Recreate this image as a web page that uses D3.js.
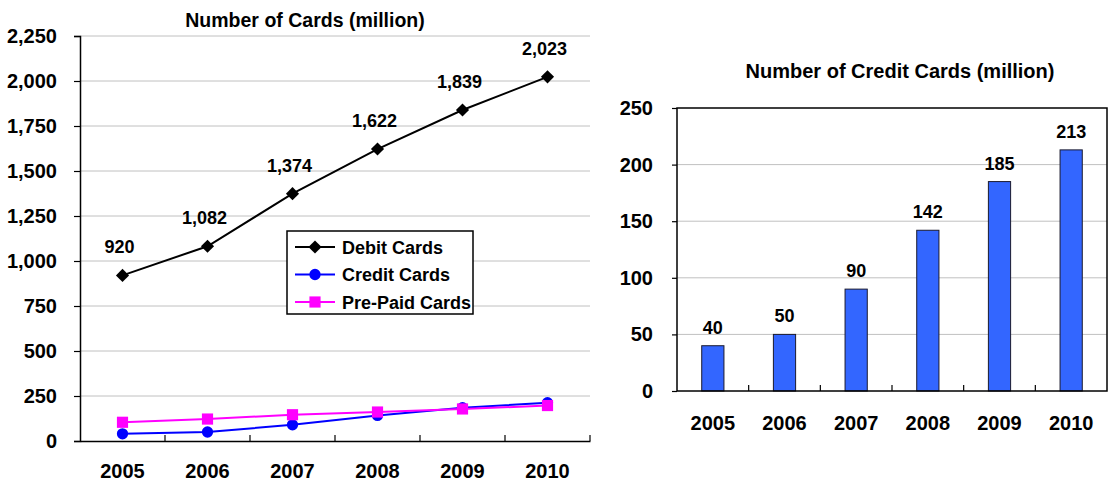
<!DOCTYPE html>
<html>
<head>
<meta charset="utf-8">
<script src="https://cdn.jsdelivr.net/npm/d3@7"></script>
<style>
  html, body { margin: 0; padding: 0; background: #fff; }
  svg { display: block; font-family: "Liberation Sans", Arial, sans-serif; font-weight: bold; }
</style>
</head>
<body>
<svg id="chart" width="1110" height="482"></svg>
<script>
// Card counts by year, in millions
const years = ["2005", "2006", "2007", "2008", "2009", "2010"];
const debitCards = [920, 1082, 1374, 1622, 1839, 2023];
const creditCards = [40, 50, 90, 142, 185, 213];
const prepaidCards = [104, 122, 146, 161, 178, 197];
const leftTicks = [0, 250, 500, 750, 1000, 1250, 1500, 1750, 2000, 2250];
const rightTicks = [0, 50, 100, 150, 200, 250];

const svg = d3.select("#chart");
const gridColor = "#c0c0c0";
const fmt = d3.format(",");

// ---------- Left panel: line chart of all card types ----------
const L = { left: 80, right: 590, top: 36, bottom: 441 };
const xL = d3.scaleBand().domain(years).range([L.left, L.right]);
const yL = d3.scaleLinear().domain([0, 2250]).range([L.bottom, L.top]);
const left = svg.append("g");

left.append("text")
  .attr("x", 305).attr("y", 27)
  .attr("text-anchor", "middle").attr("font-size", 19.5)
  .text("Number of Cards (million)");

// horizontal gridlines
left.append("g").selectAll("line").data(leftTicks.filter(d => d > 0)).join("line")
  .attr("x1", L.left).attr("x2", L.right)
  .attr("y1", d => yL(d)).attr("y2", d => yL(d))
  .attr("stroke", gridColor).attr("stroke-width", 1);

// y axis
const yAxisL = left.append("g").attr("transform", `translate(${L.left},0)`)
  .call(d3.axisLeft(yL).tickValues(leftTicks).tickFormat(fmt).tickSize(6).tickPadding(17));
yAxisL.select(".domain").attr("stroke", "#000").attr("stroke-width", 1.5);
yAxisL.selectAll(".tick line").attr("stroke", "#000").attr("stroke-width", 1.2);
yAxisL.selectAll("text").attr("font-size", 20).attr("fill", "#000")
  .style("font-family", "inherit").style("font-weight", "bold");

// x axis
const xAxisL = left.append("g").attr("transform", `translate(0,${L.bottom})`)
  .call(d3.axisBottom(xL).tickSize(0).tickPadding(23));
xAxisL.select(".domain").attr("stroke", "#000").attr("stroke-width", 1.5);
xAxisL.selectAll("text").attr("font-size", 20).attr("fill", "#000")
  .style("font-family", "inherit").style("font-weight", "bold");
// inward ticks at category boundaries
const boundsL = years.slice(1).map(d => xL(d)).concat([L.right]);
left.append("g").selectAll("line").data(boundsL).join("line")
  .attr("x1", d => d).attr("x2", d => d)
  .attr("y1", L.bottom).attr("y2", L.bottom - 6)
  .attr("stroke", "#000").attr("stroke-width", 1.2);

const cx = d => xL(d) + xL.bandwidth() / 2;
const lineGen = vals => d3.line().x((d, i) => cx(years[i])).y(d => yL(d))(vals);

const series = [
  { name: "Debit Cards", values: debitCards, color: "#000000", marker: "diamond" },
  { name: "Credit Cards", values: creditCards, color: "#0000ff", marker: "circle" },
  { name: "Pre-Paid Cards", values: prepaidCards, color: "#ff00ff", marker: "square" }
];
const symbolOf = {
  diamond: d3.symbol().type(d3.symbolDiamond2).size(110),
  circle: d3.symbol().type(d3.symbolCircle).size(100),
  square: d3.symbol().type(d3.symbolSquare).size(125)
};

// credit first, then pre-paid on top, then debit
[series[1], series[2], series[0]].forEach(s => {
  const g = left.append("g");
  g.append("path").attr("d", lineGen(s.values))
    .attr("fill", "none").attr("stroke", s.color).attr("stroke-width", 2);
  g.selectAll("path.mk").data(s.values).join("path").attr("class", "mk")
    .attr("d", symbolOf[s.marker])
    .attr("transform", (d, i) => `translate(${cx(years[i])},${yL(d)})`)
    .attr("fill", s.color);
});

// debit value labels
left.append("g").selectAll("text").data(debitCards).join("text")
  .attr("x", (d, i) => cx(years[i]) - 3)
  .attr("y", d => yL(d) - 22)
  .attr("text-anchor", "middle").attr("font-size", 18)
  .text(d => fmt(d));

// legend
const leg = left.append("g").attr("transform", "translate(287,231)");
leg.append("rect").attr("width", 186).attr("height", 83)
  .attr("fill", "#fff").attr("stroke", "#000").attr("stroke-width", 1.5);
series.forEach((s, i) => {
  const yy = 16 + i * 27.5;
  leg.append("line").attr("x1", 8).attr("x2", 48).attr("y1", yy).attr("y2", yy)
    .attr("stroke", s.color).attr("stroke-width", 2);
  leg.append("path").attr("d", symbolOf[s.marker])
    .attr("transform", `translate(28,${yy})`).attr("fill", s.color);
  leg.append("text").attr("x", 55).attr("y", yy + 6.5)
    .attr("font-size", 18).text(s.name);
});

// ---------- Right panel: bar chart of credit cards ----------
const R = { left: 677, right: 1107, top: 108, bottom: 391 };
const xR = d3.scaleBand().domain(years).range([R.left, R.right]);
const yR = d3.scaleLinear().domain([0, 250]).range([R.bottom, R.top]);
const right = svg.append("g");

right.append("text")
  .attr("x", 900).attr("y", 78)
  .attr("text-anchor", "middle").attr("font-size", 20)
  .text("Number of Credit Cards (million)");

right.append("g").selectAll("line").data(rightTicks.filter(d => d > 0 && d < 250)).join("line")
  .attr("x1", R.left).attr("x2", R.right)
  .attr("y1", d => yR(d)).attr("y2", d => yR(d))
  .attr("stroke", gridColor).attr("stroke-width", 1);

const barW = xR.bandwidth() * 0.31;
right.append("g").selectAll("rect").data(creditCards).join("rect")
  .attr("x", (d, i) => xR(years[i]) + xR.bandwidth() / 2 - barW / 2)
  .attr("y", d => yR(d))
  .attr("width", barW)
  .attr("height", d => yR(0) - yR(d))
  .attr("fill", "#3366ff").attr("stroke", "#1a1a2e").attr("stroke-width", 1);

right.append("g").selectAll("text").data(creditCards).join("text")
  .attr("x", (d, i) => xR(years[i]) + xR.bandwidth() / 2)
  .attr("y", d => yR(d) - 12)
  .attr("text-anchor", "middle").attr("font-size", 18)
  .text(d => d);

// plot frame
right.append("rect")
  .attr("x", R.left).attr("y", R.top)
  .attr("width", R.right - R.left).attr("height", R.bottom - R.top)
  .attr("fill", "none").attr("stroke", "#000").attr("stroke-width", 1.5);

const yAxisR = right.append("g").attr("transform", `translate(${R.left},0)`)
  .call(d3.axisLeft(yR).tickValues(rightTicks).tickSize(5).tickPadding(19));
yAxisR.select(".domain").remove();
yAxisR.selectAll(".tick line").attr("stroke", "#000").attr("stroke-width", 1.2);
yAxisR.selectAll("text").attr("font-size", 20).attr("fill", "#000")
  .style("font-family", "inherit").style("font-weight", "bold");

const xAxisR = right.append("g").attr("transform", `translate(0,${R.bottom})`)
  .call(d3.axisBottom(xR).tickSize(0).tickPadding(25));
xAxisR.select(".domain").remove();
xAxisR.selectAll("text").attr("font-size", 20).attr("fill", "#000")
  .style("font-family", "inherit").style("font-weight", "bold");
const boundsR = years.slice(1).map(d => xR(d));
right.append("g").selectAll("line").data(boundsR).join("line")
  .attr("x1", d => d).attr("x2", d => d)
  .attr("y1", R.bottom).attr("y2", R.bottom - 6)
  .attr("stroke", "#000").attr("stroke-width", 1.2);
</script>
</body>
</html>
